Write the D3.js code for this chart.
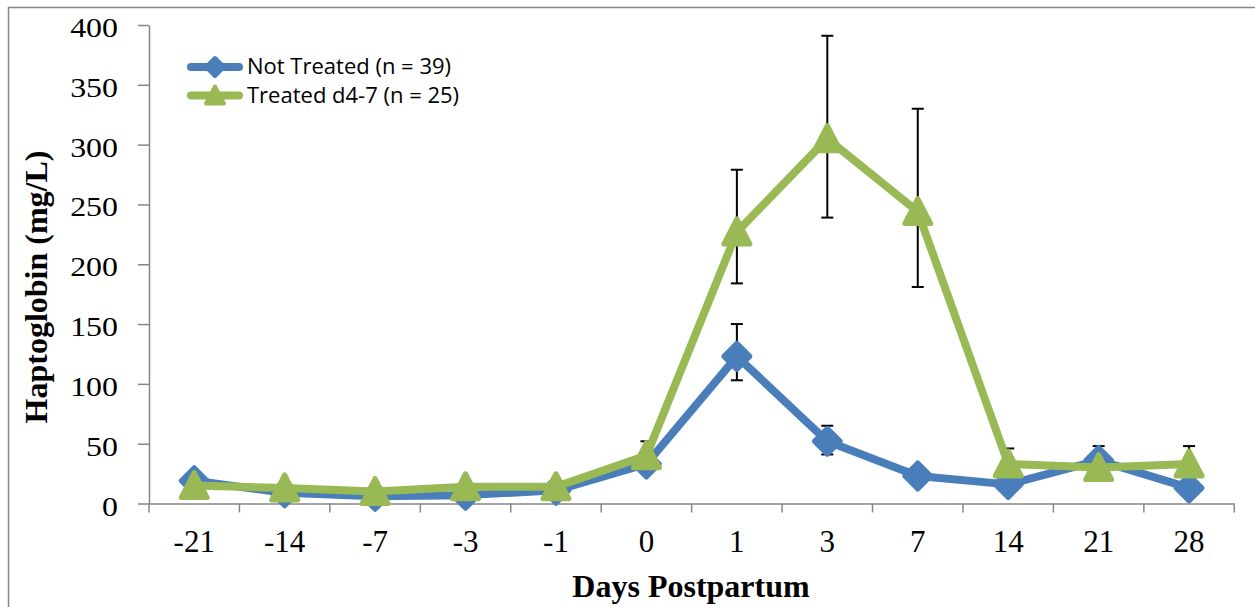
<!DOCTYPE html>
<html>
<head>
<meta charset="utf-8">
<script src="https://cdn.jsdelivr.net/npm/d3@7"></script>
<style>
  body { margin: 0; background: #fff; }
</style>
</head>
<body>
<script>
// data
var days = ["-21", "-14", "-7", "-3", "-1", "0", "1", "3", "7", "14", "21", "28"];
var notTreated = [19, 9, 6, 7, 11, 33, 123, 52, 23, 16, 36, 13];
var notTreatedUp = [3, 3, 2, 2, 2, 4, 27, 13, 3, 3, 12, 3];
var notTreatedDown = [3, 3, 2, 2, 2, 4, 20, 11, 3, 3, 10, 3];
var treated = [15, 13, 10, 14, 14, 40, 227, 305, 244, 33, 30, 33];
var treatedUp = [4, 3, 3, 4, 3, 12, 52, 86, 86, 13, 6, 15];
var treatedDown = [4, 3, 3, 4, 3, 10, 43, 66, 63, 10, 6, 10];
var yTicks = [0, 50, 100, 150, 200, 250, 300, 350, 400];
var legendNames = ["Not Treated (n = 39)", "Treated d4-7 (n = 25)"];

var W = 1255, H = 607;
var blue = "#4a7ebb", green = "#98b954", axisCol = "#868686";
var serif = "Liberation Serif, Times New Roman, serif";

var svg = d3.select("body").append("svg")
    .attr("width", W)
    .attr("height", H);

// chart border
svg.append("rect")
    .attr("x", 8.5)
    .attr("y", 7.5)
    .attr("width", 1260)
    .attr("height", 620)
    .attr("fill", "none")
    .attr("stroke", axisCol)
    .attr("stroke-width", 1.5);

var x = d3.scaleBand().domain(days).range([149, 1234.3]).padding(0);
var y = d3.scaleLinear().domain([0, 400]).range([503.5, 25]);
function cx(d) { return x(d) + x.bandwidth() / 2; }

// y axis (labels a bit wide, like the original)
var yAxis = svg.append("g")
    .attr("transform", "translate(149,0)")
    .call(d3.axisLeft(y).tickValues(yTicks).tickSize(11).tickPadding(20).tickSizeOuter(0));
yAxis.select(".domain").attr("stroke", axisCol).attr("stroke-width", 1.5);
yAxis.selectAll(".tick line").attr("stroke", axisCol).attr("stroke-width", 1.5);
yAxis.selectAll(".tick text")
    .attr("font-family", serif)
    .attr("font-size", 28)
    .attr("fill", "#000")
    .attr("x", -31 / 1.14)
    .attr("dy", 11.5)
    .attr("transform", "scale(1.14,1)");

// x axis: labels from the band scale, ticks between categories
var xAxis = svg.append("g")
    .attr("transform", "translate(0,503.5)")
    .call(d3.axisBottom(x).tickSize(0).tickSizeOuter(0));
xAxis.select(".domain").attr("stroke", axisCol).attr("stroke-width", 1.5);
xAxis.selectAll(".tick text")
    .attr("font-family", serif)
    .attr("font-size", 31)
    .attr("fill", "#000")
    .attr("y", 48)
    .attr("dy", 0);
var edges = days.map(function (d) { return x(d); }).concat([x.range()[1]]);
xAxis.selectAll(".sep").data(edges).enter().append("line")
    .attr("x1", function (d) { return d; })
    .attr("x2", function (d) { return d; })
    .attr("y1", 0)
    .attr("y2", 9)
    .attr("stroke", axisCol)
    .attr("stroke-width", 1.5);

// axis titles
svg.append("text")
    .attr("x", 691)
    .attr("y", 597)
    .attr("text-anchor", "middle")
    .attr("font-family", serif)
    .attr("font-weight", "bold")
    .attr("font-size", 32)
    .text("Days Postpartum");
svg.append("text")
    .attr("transform", "translate(47,287) rotate(-90)")
    .attr("text-anchor", "middle")
    .attr("font-family", serif)
    .attr("font-weight", "bold")
    .attr("font-size", 32)
    .text("Haptoglobin (mg/L)");

// error bars
function errBars(vals, up, down) {
    var g = svg.append("g").attr("stroke", "#000").attr("stroke-width", 2);
    vals.forEach(function (v, i) {
        var px = cx(days[i]);
        var top = y(v + up[i]), bot = y(v - down[i]);
        g.append("line").attr("x1", px).attr("x2", px).attr("y1", top).attr("y2", bot);
        g.append("line").attr("x1", px - 6).attr("x2", px + 6).attr("y1", top).attr("y2", top);
        g.append("line").attr("x1", px - 6).attr("x2", px + 6).attr("y1", bot).attr("y2", bot);
    });
}
errBars(notTreated, notTreatedUp, notTreatedDown);
errBars(treated, treatedUp, treatedDown);

var diamond = "M0,-13L13,0L0,13L-13,0Z";
var triangle = "M0,-13L13,12L-13,12Z";

function series(vals, col, shape) {
    var line = d3.line()
        .x(function (d, i) { return cx(days[i]); })
        .y(function (d) { return y(d); });
    svg.append("path")
        .datum(vals)
        .attr("d", line)
        .attr("fill", "none")
        .attr("stroke", col)
        .attr("stroke-width", 8)
        .attr("stroke-linejoin", "round")
        .attr("stroke-linecap", "round");
    svg.selectAll(null).data(vals).enter().append("path")
        .attr("d", shape)
        .attr("transform", function (d, i) { return "translate(" + cx(days[i]) + "," + y(d) + ")"; })
        .attr("fill", col)
        .attr("stroke", col)
        .attr("stroke-width", 5)
        .attr("stroke-linejoin", "round");
}
series(notTreated, blue, diamond);
series(treated, green, triangle);

// legend
var legendCols = [blue, green];
var legendShapes = ["M0,-9L9,0L0,9L-9,0Z", "M0,-9L9,8L-9,8Z"];
legendNames.forEach(function (name, i) {
    var ly = 67 + i * 28.5;
    svg.append("line")
        .attr("x1", 191).attr("x2", 239)
        .attr("y1", ly).attr("y2", ly)
        .attr("stroke", legendCols[i])
        .attr("stroke-width", 8)
        .attr("stroke-linecap", "round");
    svg.append("path")
        .attr("d", legendShapes[i])
        .attr("transform", "translate(215," + ly + ")")
        .attr("fill", legendCols[i])
        .attr("stroke", legendCols[i])
        .attr("stroke-width", 4)
        .attr("stroke-linejoin", "round");
    svg.append("text")
        .attr("x", 247)
        .attr("y", ly + 7)
        .attr("font-family", "Open Sans, sans-serif")
        .attr("font-size", 22)
        .attr("fill", "#000")
        .text(name);
});
</script>
</body>
</html>
